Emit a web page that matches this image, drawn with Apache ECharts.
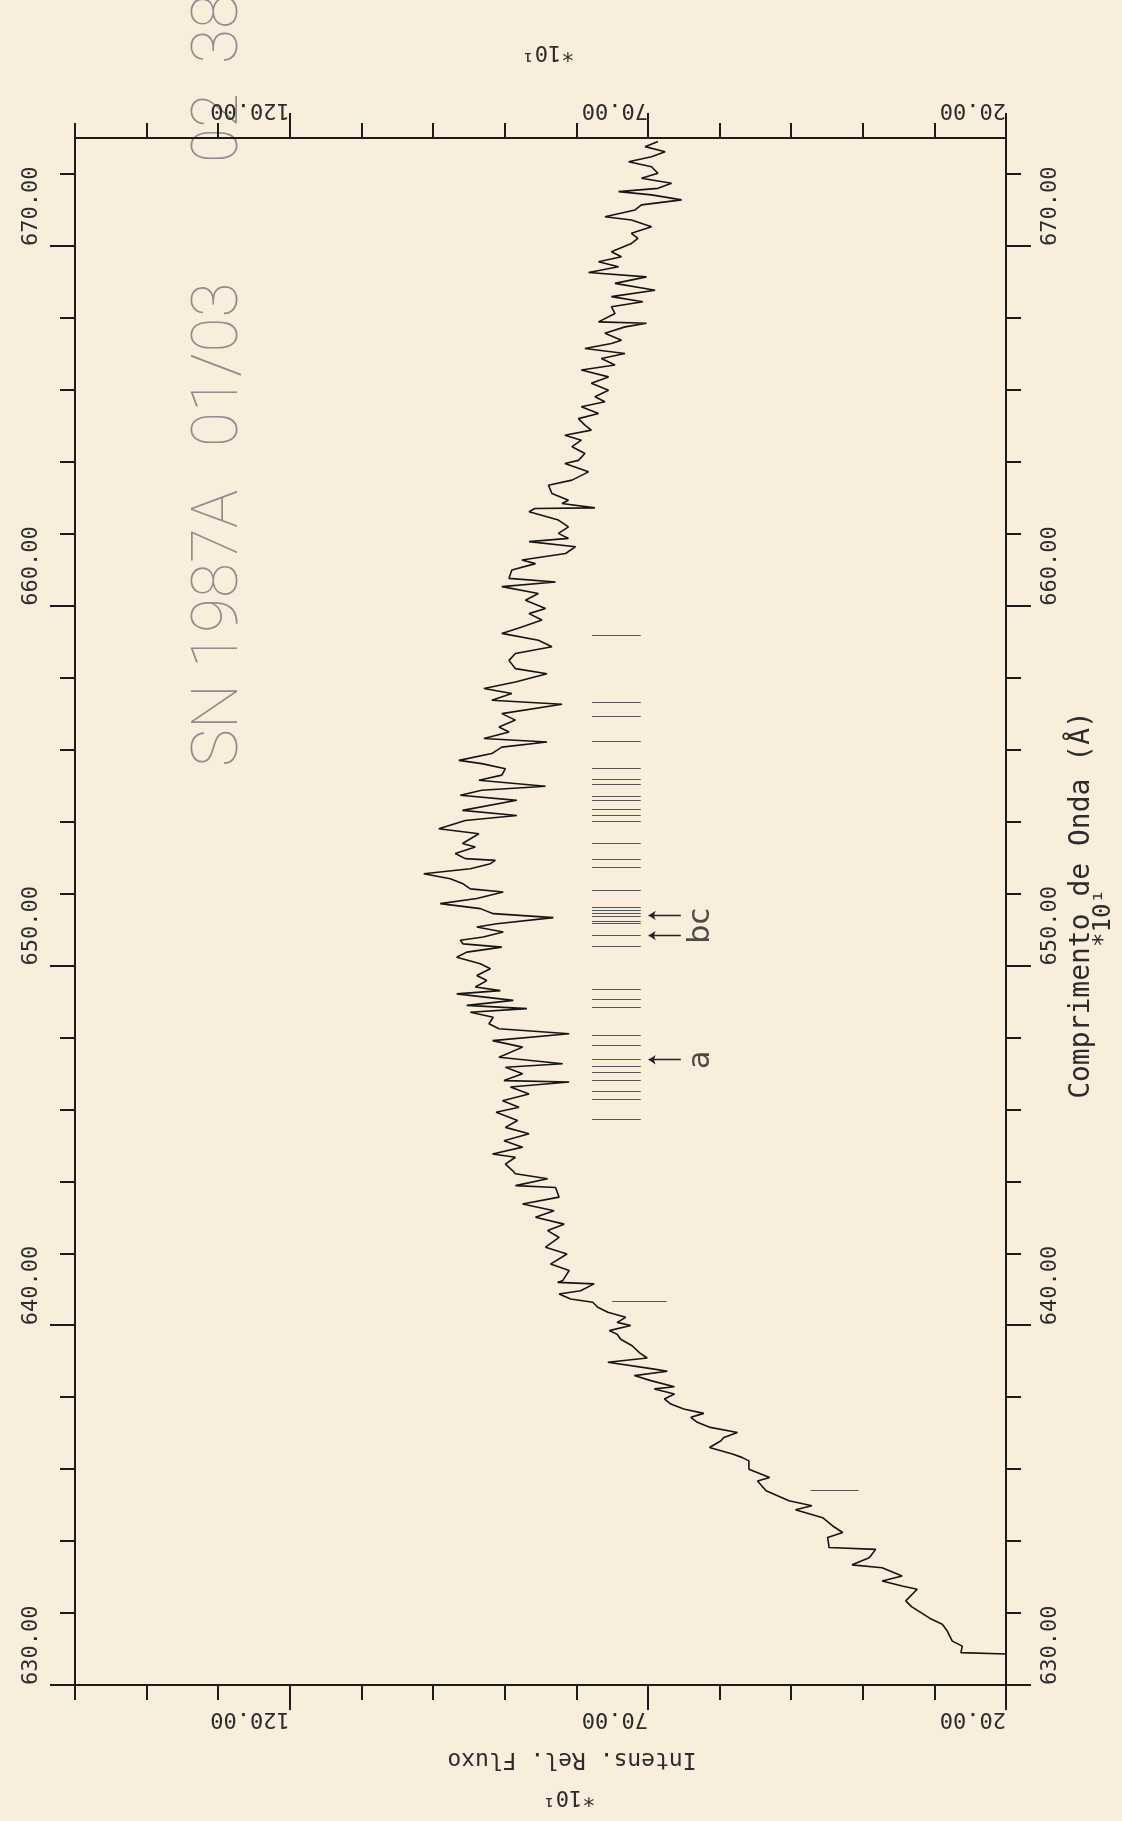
<!DOCTYPE html>
<html><head><meta charset="utf-8">
<script src="https://cdn.jsdelivr.net/npm/echarts@6/dist/echarts.min.js"></script>
<style>html,body{margin:0;padding:0;background:#f9eddb;}#c{width:1122px;height:1821px;}</style>
</head><body><div id="c"></div>
<script>
// ---- data ----
const wavelength = [
630.86,630.90,631.08,631.22,631.50,631.69,631.85,632.18,632.34,632.66,632.75,632.89,633.03,633.26,633.34,633.54,633.77,633.82,634.10,634.24,
634.42,634.65,634.87,634.98,635.12,635.40,635.67,635.77,636.00,636.23,636.32,636.42,636.60,636.79,636.88,637.02,637.16,637.30,637.44,637.55,
637.67,637.81,637.95,638.09,638.23,638.29,638.46,638.60,638.72,638.78,638.97,639.09,639.24,639.43,639.61,639.75,639.85,639.99,640.08,640.22,
640.36,640.50,640.64,640.73,640.87,640.96,641.10,641.15,641.19,641.24,641.52,641.70,641.98,642.17,642.44,642.63,642.81,643.00,643.18,643.37,
643.56,643.83,643.88,644.07,644.21,644.30,644.48,644.67,644.76,644.95,645.13,645.32,645.50,645.69,645.92,646.06,646.24,646.43,646.62,646.76,
646.80,646.99,647.17,647.27,647.45,647.73,647.91,648.10,648.24,648.38,648.56,648.70,648.80,648.89,649.03,649.21,649.30,649.40,649.58,649.72,
649.91,650.05,650.23,650.37,650.51,650.60,650.70,650.79,650.93,651.07,651.16,651.33,651.44,651.58,651.72,651.86,652.04,652.13,652.27,652.41,
652.55,652.69,652.83,652.92,652.97,653.11,653.29,653.39,653.66,653.80,654.03,654.17,654.31,654.59,654.73,654.87,654.98,655.15,655.29,655.47,
655.61,655.70,655.89,656.07,656.21,656.31,656.49,656.63,656.82,657.00,657.26,657.37,657.56,657.70,657.88,658.11,658.25,658.48,658.67,658.86,
659.04,659.23,659.41,659.60,659.78,659.92,660.15,660.34,660.53,660.66,660.76,660.99,661.17,661.27,661.45,661.64,661.78,661.87,662.01,662.19,
662.38,662.61,662.70,662.72,662.84,662.93,663.12,663.35,663.49,663.72,663.95,664.04,664.23,664.42,664.60,664.74,664.88,665.02,665.20,665.34,
665.53,665.67,665.81,665.99,666.18,666.36,666.55,666.69,666.87,667.01,667.15,667.29,667.38,667.57,667.75,667.85,667.89,668.12,668.31,668.45,
668.59,668.77,668.96,669.14,669.26,669.42,669.56,669.70,669.84,670.07,670.21,670.35,670.53,670.72,670.81,671.00,671.14,671.28,671.42,671.51,
671.60,671.74,671.88,672.02,672.20,672.34,672.48,672.62,672.76,672.90
];
const intensity = [
20.0,26.3,26.1,27.5,28.2,28.9,30.6,33.2,34.0,32.4,34.5,37.3,34.5,37.3,41.5,39.1,38.2,44.7,44.9,42.8,
44.2,45.6,49.4,47.1,50.3,53.5,54.7,53.0,55.9,55.9,56.8,58.2,61.4,59.8,59.4,57.5,61.3,63.1,64.0,62.2,
65.0,66.8,67.7,66.3,69.1,66.3,69.6,71.9,67.3,69.1,75.6,70.1,71.2,72.2,73.8,74.3,75.4,72.4,74.3,73.1,
75.6,77.0,77.7,80.8,82.4,79.4,78.0,77.5,82.6,81.9,81.0,83.6,81.3,84.3,82.4,84.0,81.7,85.7,83.1,87.5,
82.4,82.9,88.5,84.0,88.5,88.9,89.9,88.5,91.7,87.5,90.1,86.6,89.9,88.2,91.2,88.0,90.3,86.6,89.2,81.0,
90.1,87.5,89.9,81.9,90.8,87.5,91.7,81.0,90.8,92.2,91.6,94.8,86.9,95.3,88.8,96.7,90.6,94.1,92.5,93.9,
92.0,93.4,96.7,95.3,90.4,95.8,96.2,93.0,90.2,93.9,91.1,83.2,91.6,93.4,99.0,93.9,90.2,94.8,95.8,97.6,
101.3,94.8,92.0,91.3,95.5,96.9,94.1,95.9,93.6,99.2,95.5,88.3,95.9,88.3,96.2,93.2,84.3,93.6,90.4,89.9,
93.2,96.4,91.8,90.4,84.1,92.9,89.4,90.8,88.5,90.4,82.0,91.8,89.0,92.9,88.5,84.1,88.5,89.4,88.5,83.4,
85.3,90.4,87.6,84.8,86.6,84.3,87.1,85.3,90.4,82.9,89.4,89.0,85.7,87.6,81.5,80.1,86.6,81.1,82.5,81.1,
82.5,86.6,85.8,77.4,82.0,81.1,83.4,83.9,80.6,78.3,81.6,79.7,78.8,80.6,79.3,81.6,77.9,78.8,79.7,76.9,
79.3,76.0,77.4,75.5,77.9,75.5,79.3,74.6,76.5,73.2,78.8,75.1,73.7,76.0,73.2,70.2,76.9,74.6,75.1,70.7,
75.1,69.0,74.6,70.2,78.3,74.1,76.9,73.7,75.1,72.3,71.4,72.3,69.5,72.3,76.0,71.8,70.9,65.3,69.5,74.1,
68.6,66.7,70.9,68.6,69.5,72.7,69.5,67.6,70.4,68.6
];
// identification line marks (wavelength) and their intensity span
const idLineWavelengths = [645.73,646.29,646.50,646.80,647.03,647.20,647.38,647.77,648.07,648.84,649.05,649.35,650.54,650.83,651.16,651.23,651.36,651.46,651.53,651.62,652.09,652.74,652.95,653.39,654.02,654.17,654.33,654.58,654.70,655.03,655.17,655.49,656.24,656.94,657.33,659.18];
const idLineFrom = [71.0];
const idLineTo = [77.8];
const extraLineWavelengths = [635.40, 640.66];
const extraLineFrom = [40.6, 67.4];
const extraLineTo = [47.3, 75.0];
const arrowWavelengths = [647.38, 650.83, 651.39];
const arrowHead = [69.9];
const arrowTail = [65.4];
const letterLabels = ['a', 'bc'];
const letterWavelengths = [647.38, 651.10];
const letterIntensity = [62.6];
// axis ticks
const wavelengthLabels = [630, 640, 650, 660, 670];
const intensityLabels = [20, 70, 120];
const wavelengthMin = 630, wavelengthMax = 673, wavelengthStep = 2;
const intensityMin = 20, intensityMax = 150, intensityStep = 10;
// title words
const titleWords = ['SN', '1987A', '01/03', '02', '38'];

// ---- chart ----
const wavelengthMinor = [];
for (let v = wavelengthMin; v < wavelengthMax; v += wavelengthStep) wavelengthMinor.push(v);
const intensityMinor = [];
for (let v = intensityMin; v <= intensityMax; v += intensityStep) intensityMinor.push(v);

const INK = '#1c1c1c';
const MONO = 'DejaVu Sans Mono';
const TXT = '#2c2c2c';
const lineStyle = { color: INK, width: 2 };

function xAx(pos, long) {
  return {
    type: 'value', min: intensityMin, max: intensityMax, inverse: true, position: pos,
    interval: intensityStep,
    axisLine: { show: true, onZero: false, lineStyle },
    axisTick: { show: true, length: long ? 25 : 15, customValues: long ? intensityLabels : intensityMinor, lineStyle },
    axisLabel: long ? {
      show: true, customValues: intensityLabels, rotate: 180, align: 'left', verticalAlign: 'middle',
      margin: pos === 'bottom' ? 34 : 28, formatter: v => Number(v).toFixed(2),
      fontFamily: MONO, fontSize: 22, color: TXT
    } : { show: false },
    splitLine: { show: false }
  };
}
function yAx(pos, long) {
  return {
    type: 'value', min: wavelengthMin, max: wavelengthMax, position: pos,
    interval: long ? 10 : wavelengthStep,
    axisLine: { show: true, onZero: false, lineStyle },
    axisTick: { show: true, length: long ? 25 : 15, customValues: long ? wavelengthLabels : wavelengthMinor, lineStyle },
    axisLabel: long ? {
      show: true, customValues: wavelengthLabels, rotate: 90, align: 'left', verticalAlign: 'middle',
      margin: 44, formatter: v => Number(v).toFixed(2),
      fontFamily: MONO, fontSize: 22, color: TXT
    } : { show: false },
    splitLine: { show: false }
  };
}

// title word start positions (page px, text runs upward)
const titleStartY = [767, 668, 447, 163, 64];
const titleGraphics = titleWords.map((w, i) => ({
  type: 'text', x: 221, y: titleStartY[i], rotation: Math.PI / 2, silent: true,
  style: { text: w, fontFamily: 'Roboto', fontWeight: 100, fontSize: 64,
           fill: '#8e8e8e', align: 'left', verticalAlign: 'middle' }
}));

const chart = echarts.init(document.getElementById('c'), null, { renderer: 'canvas' });
chart.setOption({
  backgroundColor: '#f9eddb',
  animation: false,
  grid: { left: 75, top: 138, width: 931, height: 1547 },
  xAxis: [xAx('bottom', false), xAx('bottom', true), xAx('top', false), xAx('top', true)],
  yAxis: [yAx('left', false), yAx('left', true), yAx('right', false), yAx('right', true)],
  series: [
    {
      type: 'line', xAxisIndex: 0, yAxisIndex: 0,
      data: wavelength.map((w, i) => [intensity[i], w]),
      symbol: 'none', showSymbol: false,
      lineStyle: { color: '#151515', width: 1.6 }, silent: true
    },
    {
      type: 'lines', coordinateSystem: 'cartesian2d', xAxisIndex: 0, yAxisIndex: 0,
      data: idLineWavelengths.map(w => ({ coords: [[idLineFrom[0], w], [idLineTo[0], w]] }))
        .concat(extraLineWavelengths.map((w, i) => ({ coords: [[extraLineFrom[i], w], [extraLineTo[i], w]] }))),
      symbol: 'none',
      lineStyle: { color: '#555', width: 1.2, opacity: 1 }, silent: true
    },
    {
      type: 'lines', coordinateSystem: 'cartesian2d', xAxisIndex: 0, yAxisIndex: 0,
      data: arrowWavelengths.map(w => ({ coords: [[arrowHead[0], w], [arrowTail[0], w]] })),
      symbol: ['arrow', 'none'], symbolSize: [7, 10],
      lineStyle: { color: '#222', width: 1.4, opacity: 1 }, silent: true
    },
    {
      type: 'scatter', xAxisIndex: 0, yAxisIndex: 0,
      data: letterWavelengths.map((w, i) => ({ value: [letterIntensity[0], w], name: letterLabels[i] })),
      symbol: 'circle', symbolSize: 1, itemStyle: { color: 'rgba(0,0,0,0)' },
      label: {
        show: true, position: 'inside', formatter: p => p.name, rotate: 90,
        fontFamily: 'DejaVu Sans', fontSize: 30, color: '#222'
      },
      silent: true
    }
  ],
  graphic: titleGraphics.concat([
    { type: 'text', x: 1082, y: 905, rotation: Math.PI / 2, silent: true,
      style: { text: 'Comprimento de Onda (Å)', fontFamily: MONO, fontSize: 28, fill: TXT,
               align: 'center', verticalAlign: 'middle' } },
    { type: 'text', x: 1104, y: 918, rotation: Math.PI / 2, silent: true,
      style: { text: '*10¹', fontFamily: MONO, fontSize: 24, fill: TXT, align: 'center', verticalAlign: 'middle' } },
    { type: 'text', x: 572, y: 1759, rotation: Math.PI, silent: true,
      style: { text: 'Intens. Rel. Fluxo', fontFamily: MONO, fontSize: 23, fill: TXT, align: 'center', verticalAlign: 'middle' } },
    { type: 'text', x: 569, y: 1797, rotation: Math.PI, silent: true,
      style: { text: '*10¹', fontFamily: MONO, fontSize: 22, fill: TXT, align: 'center', verticalAlign: 'middle' } },
    { type: 'text', x: 548, y: 52, rotation: Math.PI, silent: true,
      style: { text: '*10¹', fontFamily: MONO, fontSize: 22, fill: TXT, align: 'center', verticalAlign: 'middle' } }
  ])
});
</script></body></html>
